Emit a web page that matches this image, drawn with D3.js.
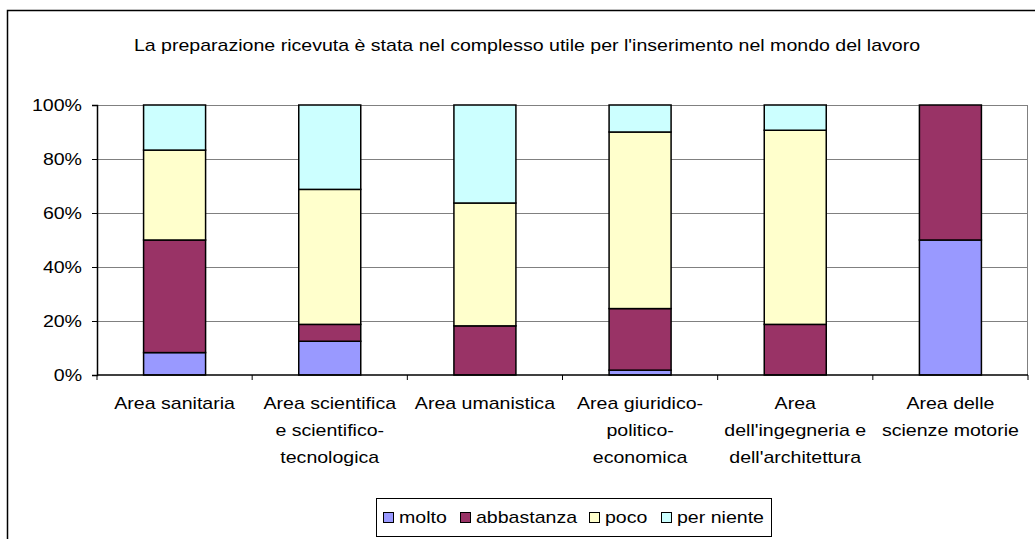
<!DOCTYPE html>
<html lang="it">
<head>
<meta charset="utf-8">
<title>La preparazione ricevuta</title>
<script src="https://d3js.org/d3.v7.min.js"></script>
<style>
  body { margin: 0; background: #fff; font-family: "Liberation Sans", Arial, sans-serif; }
  text { font-family: "Liberation Sans", Arial, sans-serif; fill: #000; }
</style>
</head>
<body>
<div id="chart"></div>
<script>
// data (percent of answers per area)
var categories = [
  ["Area sanitaria"],
  ["Area scientifica", "e scientifico-", "tecnologica"],
  ["Area umanistica"],
  ["Area giuridico-", "politico-", "economica"],
  ["Area", "dell'ingegneria e", "dell'architettura"],
  ["Area delle", "scienze motorie"]
];
var seriesNames = ["molto", "abbastanza", "poco", "per niente"];
var molto      = [8.3, 12.5, 0,    1.8,  0,    50];
var abbastanza = [41.7, 6.25, 18.2, 22.8, 18.75, 50];
var poco       = [33.3, 50,   45.5, 65.4, 71.9, 0];
var perNiente  = [16.7, 31.25, 36.3, 10,  9.35, 0];
var yTicks = [0, 20, 40, 60, 80, 100];
var colors = ["#9999ff", "#993366", "#ffffcc", "#ccffff"];
var title = "La preparazione ricevuta è stata nel complesso utile per l'inserimento nel mondo del lavoro";

var W = 1035, H = 539;
var margin = {top: 105, left: 97, right: 7, bottom: 164};
var width = W - margin.left - margin.right,
    height = H - margin.top - margin.bottom;
var fontSize = "17px";
var stretchK = 1.15; // the original text is a bit wider than plain Arial

// widen text horizontally a little, like the source picture
function stretch(sel) {
  sel.each(function() {
    var len = this.getComputedTextLength();
    d3.select(this).attr("textLength", len * stretchK).attr("lengthAdjust", "spacingAndGlyphs");
  });
}

var svg = d3.select("#chart").append("svg")
  .attr("width", W).attr("height", H);

// outer chart border
svg.append("rect")
  .attr("x", 7.5).attr("y", 10.5)
  .attr("width", W + 10).attr("height", H + 10)
  .attr("fill", "none").attr("stroke", "#000").attr("stroke-width", 1.5);

svg.append("text")
  .attr("x", 527).attr("y", 51)
  .attr("text-anchor", "middle")
  .style("font-size", fontSize)
  .text(title)
  .call(stretch);

var g = svg.append("g")
  .attr("transform", "translate(" + margin.left + "," + margin.top + ")");

var step = width / categories.length;
var y = d3.scaleLinear().domain([0, 100]).range([height, 0]);

// gridlines
g.selectAll(".grid").data(yTicks.filter(function(d){ return d > 0; }))
  .enter().append("line")
  .attr("x1", 0).attr("x2", width)
  .attr("y1", function(d){ return Math.round(y(d)) + 0.5; })
  .attr("y2", function(d){ return Math.round(y(d)) + 0.5; })
  .attr("stroke", "#808080").attr("stroke-width", 1);
g.append("line")
  .attr("x1", width - 0.5).attr("x2", width - 0.5)
  .attr("y1", 0).attr("y2", height)
  .attr("stroke", "#808080");

// stacked bars
var table = categories.map(function(c, i) {
  return {i: i, molto: molto[i], abbastanza: abbastanza[i], poco: poco[i], "per niente": perNiente[i]};
});
var stack = d3.stack().keys(seriesNames)(table);

g.selectAll(".layer").data(stack).enter().append("g")
  .attr("fill", function(d, i){ return colors[i]; })
  .selectAll("rect").data(function(d){ return d.filter(function(p){ return p[1] - p[0] > 0; }); })
  .enter().append("rect")
  .attr("x", function(d){ return d.data.i * step + (step - 62) / 2; })
  .attr("width", 62)
  .attr("y", function(d){ return y(d[1]); })
  .attr("height", function(d){ return y(d[0]) - y(d[1]); })
  .attr("stroke", "#000").attr("stroke-width", 1.5);

// y axis
var yAxis = g.append("g")
  .call(d3.axisLeft(y).tickValues(yTicks).tickFormat(function(d){ return d + "%"; }).tickSizeOuter(0).tickSize(5).tickPadding(10));
yAxis.select(".domain").attr("stroke", "#000").attr("stroke-width", 1.5);
yAxis.selectAll("text").style("font-size", fontSize).style("font-family", "Liberation Sans, Arial, sans-serif").attr("fill", "#000").call(stretch);

// x axis
g.append("line")
  .attr("x1", 0).attr("x2", width)
  .attr("y1", height).attr("y2", height)
  .attr("stroke", "#000").attr("stroke-width", 1.5);
g.selectAll(".xtick").data(d3.range(categories.length + 1))
  .enter().append("line")
  .attr("x1", function(d){ return d * step; }).attr("x2", function(d){ return d * step; })
  .attr("y1", height).attr("y2", height + 5)
  .attr("stroke", "#000");

var labels = g.selectAll(".xlab").data(categories).enter().append("text")
  .attr("text-anchor", "middle")
  .attr("transform", function(d, i){ return "translate(" + (i * step + step / 2) + "," + (height + 34) + ")"; })
  .style("font-size", fontSize);
labels.selectAll("tspan").data(function(d){ return d; }).enter().append("tspan")
  .attr("x", 0)
  .attr("y", function(d, i){ return i * 27; })
  .text(function(d){ return d; })
  .call(stretch);

// legend
var legend = svg.append("g").attr("transform", "translate(376,498)");
legend.append("rect")
  .attr("x", 0.5).attr("y", 0.5)
  .attr("width", 395).attr("height", 38)
  .attr("fill", "#fff").attr("stroke", "#000");
var offs = [7, 84, 213, 285];
var items = legend.selectAll(".li").data(seriesNames).enter().append("g")
  .attr("transform", function(d, i){ return "translate(" + offs[i] + ",0)"; });
items.append("rect")
  .attr("x", 0.5).attr("y", 14.5).attr("width", 10).attr("height", 10)
  .attr("fill", function(d, i){ return colors[i]; })
  .attr("stroke", "#000");
items.append("text")
  .attr("x", 16).attr("y", 25)
  .style("font-size", fontSize)
  .text(function(d){ return d; })
  .call(stretch);
</script>
</body>
</html>
